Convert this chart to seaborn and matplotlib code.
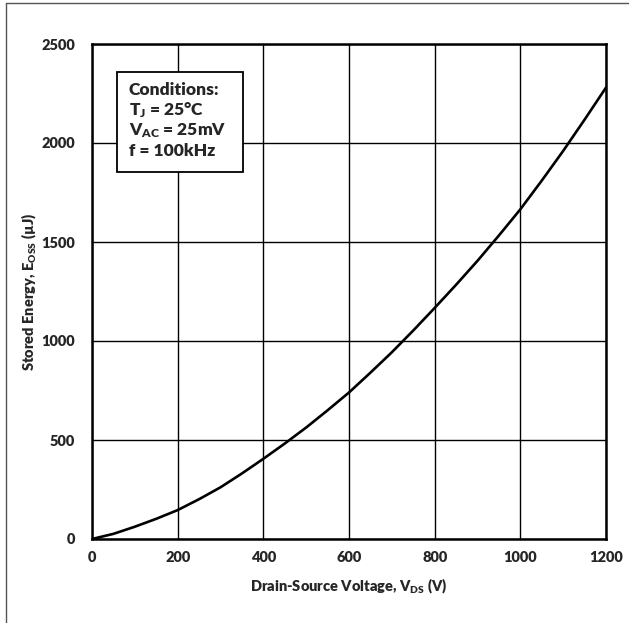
import matplotlib
matplotlib.use("Agg")
import matplotlib.pyplot as plt
from matplotlib.lines import Line2D
from matplotlib.patches import Rectangle
import seaborn as sns
import pandas as pd

# Data
vds = [0, 50, 100, 150, 200, 250, 300, 350, 400, 450, 500, 550, 600, 650,
       700, 750, 800, 850, 900, 950, 1000, 1050, 1100, 1150, 1200]
eoss = [0, 26, 62, 102, 146, 201, 261, 331, 405, 482, 563, 650, 740, 840,
        943, 1053, 1167, 1284, 1405, 1533, 1665, 1810, 1960, 2118, 2280]
x_ticks = [0, 200, 400, 600, 800, 1000, 1200]
y_ticks = [0, 500, 1000, 1500, 2000, 2500]
cond_lines = ["Conditions:", r"T$_{\mathrm{J}}$ = 25°C",
              r"V$_{\mathrm{AC}}$ = 25mV", "f = 100kHz"]

sns.set_theme(style="white")
FONT = "Lato"
W = "heavy"
plt.rcParams["font.family"] = [FONT, "DejaVu Sans"]
plt.rcParams["font.weight"] = W
plt.rcParams["mathtext.fontset"] = "custom"
plt.rcParams["mathtext.rm"] = f"{FONT}:{W}"
plt.rcParams["mathtext.it"] = f"{FONT}:{W}"
plt.rcParams["mathtext.bf"] = f"{FONT}:{W}"

df = pd.DataFrame({"V": vds, "E": eoss})

fig = plt.figure(figsize=(6.29, 6.23), dpi=100)
ax = fig.add_axes([92 / 629, 1 - 539 / 623, (606 - 92) / 629, (539 - 44) / 623])

sns.lineplot(data=df, x="V", y="E", ax=ax, color="black", linewidth=1.9, zorder=3)

ax.set_xlim(0, 1200)
ax.set_ylim(0, 2500)
ax.set_xticks(x_ticks)
ax.set_yticks(y_ticks)
ax.set_xticklabels([str(t) for t in x_ticks], fontsize=10.5, fontweight=W)
ax.set_yticklabels([str(t) for t in y_ticks], fontsize=10.5, fontweight=W)
ax.tick_params(axis="x", length=0, pad=9)
ax.tick_params(axis="y", length=0, pad=12)
ax.grid(True, color="black", linewidth=1.0)
for s in ax.spines.values():
    s.set_visible(True)
    s.set_color("black")
    s.set_linewidth(1.8)

ax.set_xlabel(r"Drain-Source Voltage, V$_{\mathrm{DS}}$ (V)", fontsize=10.5, fontweight=W, labelpad=9)
ax.set_ylabel(r"Stored Energy, E$_{\mathrm{OSS}}$ (µJ)", fontsize=10.5, fontweight=W, labelpad=2)

# Conditions box
ax.add_patch(Rectangle((58, 1853), 295, 506, facecolor="white", edgecolor="black",
                       linewidth=1.3, zorder=4))
for i, line in enumerate(cond_lines):
    yp = 95 + i * 20.3
    ax.text(86, (539 - yp) / 0.198, line, fontsize=12.5, fontweight=W,
            va="baseline", ha="left", zorder=5)

# Outer figure border (left and top)
fig.add_artist(Line2D([5.5 / 629, 5.5 / 629], [0, 1 - 3 / 623], transform=fig.transFigure, color="#555555", linewidth=1.0))
fig.add_artist(Line2D([5.5 / 629, 1], [1 - 3 / 623, 1 - 3 / 623], transform=fig.transFigure, color="#555555", linewidth=1.0))

fig.savefig("out.png", dpi=100)
